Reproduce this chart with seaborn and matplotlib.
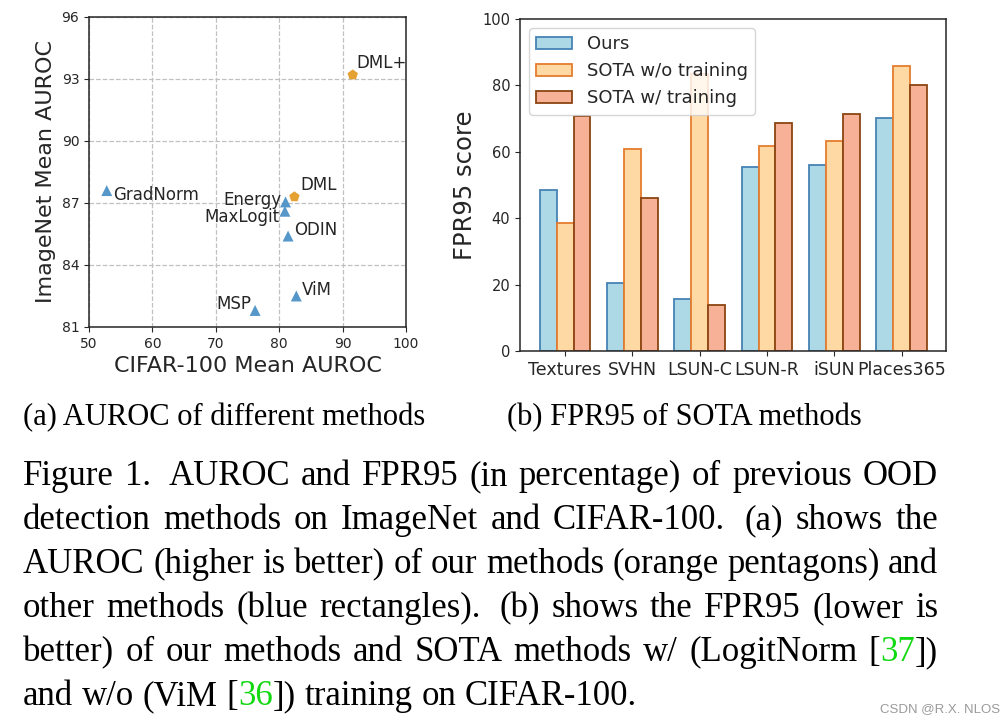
import matplotlib
matplotlib.use("Agg")
import pandas as pd
import matplotlib.pyplot as plt
import seaborn as sns

# ---- data ----
methods = ["GradNorm", "Energy", "MaxLogit", "ODIN", "MSP", "ViM", "DML", "DML+"]
cifar_auroc = [52.8, 81.0, 80.9, 81.4, 76.2, 82.7, 82.4, 91.6]
imagenet_auroc = [87.6, 87.05, 86.6, 85.4, 81.8, 82.5, 87.3, 93.2]
method_kind = ["other", "other", "other", "other", "other", "other", "ours", "ours"]

datasets = ["Textures", "SVHN", "LSUN-C", "LSUN-R", "iSUN", "Places365"]
fpr_ours = [48.4, 20.5, 15.7, 55.3, 56.0, 70.2]
fpr_wo_training = [38.6, 60.7, 83.3, 61.7, 63.2, 85.9]
fpr_w_training = [70.7, 46.0, 14.0, 68.7, 71.4, 80.1]
bar_labels = ["Ours", "SOTA w/o training", "SOTA w/ training"]

sns.set_style("ticks")
plt.rcParams['font.family'] = ['DejaVu Sans']
text_col = '#262626'

W, H = 1007, 723
fig = plt.figure(figsize=(W / 100, H / 100), dpi=100)


def frac_rect(left, top, right, bottom):
    return [left / W, 1 - bottom / H, (right - left) / W, (bottom - top) / H]


# ---- (a) scatter ----
ax1 = fig.add_axes(frac_rect(89, 17, 406, 327))
scatter_df = pd.DataFrame({"method": methods, "cifar": cifar_auroc,
                           "imagenet": imagenet_auroc, "kind": method_kind})
sns.scatterplot(data=scatter_df, x="cifar", y="imagenet", hue="kind", style="kind",
                markers={"other": "^", "ours": "p"},
                palette={"other": "#5597c9", "ours": "#e5a232"},
                s=62, linewidth=0, legend=False, ax=ax1, zorder=3)

# label placement (pixel offsets, alignment)
label_pos = {"GradNorm": (6, -4, "left"), "Energy": (-4, 2, "right"),
             "MaxLogit": (-5, -6, "right"), "ODIN": (6, 6, "left"),
             "MSP": (-4, 6, "right"), "ViM": (6, 6, "left"),
             "DML": (6, 12, "left"), "DML+": (4, 12, "left")}
for m, x, y in zip(methods, cifar_auroc, imagenet_auroc):
    dx, dy, ha = label_pos[m]
    ax1.annotate(m, (x, y), xytext=(dx, dy), textcoords="offset pixels",
                 ha=ha, va="center", fontsize=12, color=text_col)

ax1.set_xlim(50, 100)
ax1.set_ylim(81, 96)
ax1.set_xticks(range(50, 101, 10))
ax1.set_yticks(range(81, 97, 3))
ax1.grid(True, linestyle="--", color="#c0c0c0", linewidth=0.9)
ax1.set_axisbelow(True)
ax1.set_xlabel("CIFAR-100 Mean AUROC", fontsize=16, color=text_col)
ax1.set_ylabel("ImageNet Mean AUROC", fontsize=16, color=text_col)
ax1.tick_params(labelsize=10, colors=text_col)

# ---- (b) grouped bars ----
ax2 = fig.add_axes(frac_rect(520, 19, 946, 351))
bar_df = pd.DataFrame({
    "dataset": datasets * 3,
    "score": fpr_ours + fpr_wo_training + fpr_w_training,
    "method": [bar_labels[0]] * 6 + [bar_labels[1]] * 6 + [bar_labels[2]] * 6,
})
fills = ["#add8e6", "#ffd9a3", "#f7b196"]
edges = ["#4682b4", "#e57c2e", "#8b4513"]
sns.barplot(data=bar_df, x="dataset", y="score", hue="method",
            palette=dict(zip(bar_labels, fills)), saturation=1, width=0.75,
            linewidth=1.3, legend=False, ax=ax2)
for cont, ec in zip(ax2.containers, edges):
    for p in cont:
        p.set_edgecolor(ec)
        p.set_linewidth(1.3)
ax2.legend(ax2.containers, bar_labels, loc="upper left", fontsize=13,
           frameon=True, labelcolor=text_col)
ax2.set_xlim(-0.67, 5.66)
ax2.set_ylim(0, 100)
ax2.set_xlabel("")
ax2.set_ylabel("FPR95 score", fontsize=17.5, color=text_col)
ax2.tick_params(axis="y", labelsize=10.5, colors=text_col)
ax2.tick_params(axis="x", labelsize=12.5, colors=text_col)

for ax in (ax1, ax2):
    for sp in ax.spines.values():
        sp.set_color(text_col)
        sp.set_linewidth(1.1)

# ---- captions ----
serif = "Liberation Serif"
fig.text(23 / W, 1 - 425 / H, "(a) AUROC of different methods",
         fontsize=22, family=serif, color="black", va="baseline")
fig.text(507 / W, 1 - 425 / H, "(b) FPR95 of SOTA methods",
         fontsize=22, family=serif, color="black", va="baseline")

cap_fs = 25
green = "#12d812"
caption_lines = [
    "Figure 1.  AUROC and FPR95 (in percentage) of previous OOD",
    "detection methods on ImageNet and CIFAR-100.  (a) shows the",
    "AUROC (higher is better) of our methods (orange pentagons) and",
    "other methods (blue rectangles).  (b) shows the FPR95 (lower is",
    "better) of our methods and SOTA methods w/ (LogitNorm [37])",
    "and w/o (ViM [36]) training on CIFAR-100.",
]
cite_numbers = ["37", "36"]
line_x0, line_x1 = 23, 938
line_y0, line_step = 485, 44

fig.canvas.draw()
renderer = fig.canvas.get_renderer()


def split_word(word):
    # split a word into (text, colour) pieces so citation numbers are green
    for num in cite_numbers:
        key = "[" + num + "]"
        if key in word:
            a, b = word.split(key)
            return [(a + "[", "black"), (num, green), ("]" + b, "black")]
    return [(word, "black")]


for i, line in enumerate(caption_lines):
    y = 1 - (line_y0 + i * line_step) / H
    words = line.replace("  ", " ").split(" ")
    placed = []
    for w in words:
        pieces = []
        width = 0
        for txt, col in split_word(w):
            if not txt:
                continue
            t = fig.text(0, y, txt, fontsize=cap_fs, family=serif, color=col,
                         va="baseline")
            tw = t.get_window_extent(renderer).width
            pieces.append((t, tw))
            width += tw
        placed.append((w, pieces, width))
    total = sum(p[2] for p in placed)
    weights = [1.6 if w.endswith(".") else 1.0 for w, _, _ in placed[:-1]]
    last = i == len(caption_lines) - 1
    if last:
        unit = cap_fs * 100 / 72 * 0.25
    else:
        unit = (line_x1 - line_x0 - total) / sum(weights)
    x = line_x0
    for k, (w, pieces, width) in enumerate(placed):
        for t, tw in pieces:
            t.set_x(x / W)
            x += tw
        if k < len(weights):
            x += unit * weights[k]

fig.text(1000 / W, 1 - 712 / H, "CSDN @R.X. NLOS", ha="right", va="baseline",
         fontsize=9.5, family="Liberation Sans", color="#9a9a9a")

fig.savefig("out.png", dpi=100)
